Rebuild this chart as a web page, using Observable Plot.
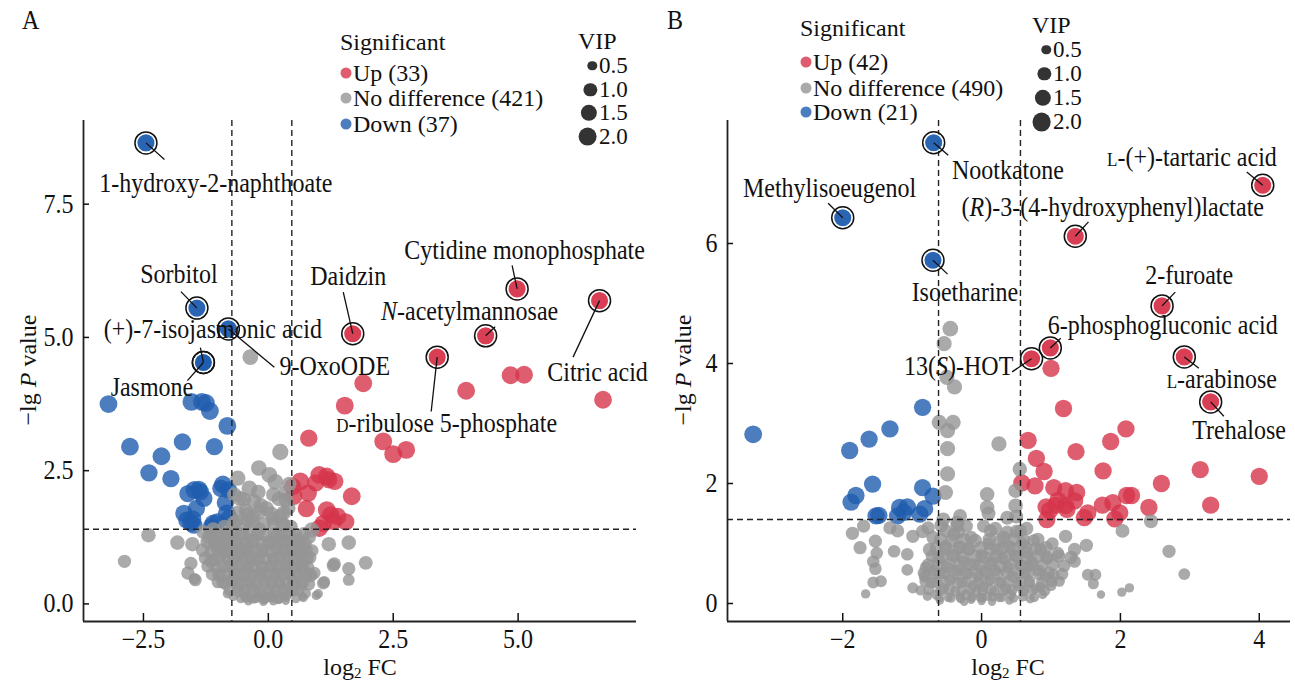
<!DOCTYPE html>
<html><head><meta charset="utf-8">
<script src="https://cdn.jsdelivr.net/npm/d3@7"></script>
<script src="https://cdn.jsdelivr.net/npm/@observablehq/plot@0.6"></script>
<style>
body{margin:0;background:#fff;}
#wrap{position:relative;width:1295px;height:682px;overflow:hidden;font-family:"Liberation Serif","Times New Roman",serif;font-size:24px;color:#111;background:#fff;}
.abs{position:absolute;white-space:nowrap;line-height:20px;}
.dot{display:inline-block;border-radius:50%;position:absolute;transform:translate(-50%,-50%);}
svg{position:absolute;top:0;}
</style></head><body><div id="wrap"></div>
<script>
// ---------- DATA ----------
// [log2FC, -lgP, VIP]
const A_ns = [[-2.40,1.29,1.2],[-2.88,0.80,1.0],[-1.82,1.15,1.2],[-1.52,1.12,1.2],[-1.61,0.58,1.0],[-1.46,0.45,0.9],[-1.55,0.76,1.0],[-1.48,0.47,0.8],
[0.24,2.85,1.5],[-0.19,2.55,1.4],[0.02,2.42,1.4],[0.14,2.29,1.4],[0.34,2.08,1.3],[-0.61,2.36,1.3],[-0.38,2.17,1.4],[-0.57,1.98,1.3],[-0.04,1.79,1.3],[0.23,1.64,1.3],
[0.87,1.39,1.3],[1.21,1.12,1.2],[1.61,1.15,1.2],[1.30,0.72,1.0],[1.61,0.66,1.0],[1.95,0.77,1.1],[1.61,0.45,0.8],[1.10,0.39,0.9],[0.96,0.16,0.5],[-0.36,4.63,1.4],
[1.32,0.75,1.0],[1.12,0.41,0.8],[0.92,0.58,0.9],[-0.82,0.19,0.5],[-0.48,0.14,0.4],[0.38,0.16,0.4],[0.68,0.14,0.4],[1.00,0.19,0.5],
[-1.30,1.35,1.1],[-1.20,1.25,1.0],[-1.10,1.40,1.1],[-1.05,1.10,1.0],[-0.95,1.30,1.1],[-0.90,0.95,0.9],[-0.85,1.20,1.0],[-0.80,0.70,0.9],[-0.78,1.00,1.0],[-0.75,0.45,0.8],
[-0.72,1.38,1.1],[-0.70,0.85,0.9],[-0.68,0.60,0.9],[-0.65,1.15,1.0],[-0.62,0.30,0.7],[-0.60,0.95,0.9],[-0.58,0.50,0.8],[-0.55,1.30,1.0],[-0.52,0.75,0.9],[-0.50,0.20,0.6],
[-0.48,1.05,1.0],[-0.45,0.40,0.8],[-0.42,0.65,0.9],[-0.40,1.55,1.1],[-0.38,0.12,0.5],[-0.36,0.90,0.9],[-0.33,0.30,0.7],[-0.30,1.20,1.0],[-0.28,0.55,0.8],[-0.25,0.10,0.5],
[-0.22,0.80,0.9],[-0.20,0.35,0.7],[-0.18,1.40,1.1],[-0.15,0.18,0.6],[-0.12,0.60,0.8],[-0.10,1.00,0.9],[-0.08,0.08,0.5],[-0.05,0.45,0.7],[-0.02,0.25,0.6],[0.00,0.70,0.8],
[0.03,0.12,0.5],[0.05,1.15,1.0],[0.08,0.40,0.7],[0.10,0.85,0.9],[0.12,0.20,0.6],[0.15,0.55,0.8],[0.18,1.30,1.0],[0.20,0.08,0.5],[0.22,0.70,0.8],[0.25,0.35,0.7],
[0.28,1.00,0.9],[0.30,0.15,0.6],[0.32,0.55,0.8],[0.35,0.85,0.9],[0.38,1.20,1.0],[0.40,0.30,0.7],[0.42,0.65,0.8],[0.45,1.45,1.1],[0.48,0.45,0.8],[0.50,0.95,0.9],
[0.53,0.25,0.7],[0.55,0.70,0.8],[0.58,1.20,1.0],[0.60,0.50,0.8],[0.63,0.90,0.9],[0.66,0.35,0.7],[0.70,1.05,1.0],[0.72,0.65,0.8],[0.75,0.20,0.6],[0.78,0.85,0.9],
[0.82,1.25,1.0],[0.85,0.55,0.8],[0.88,1.00,0.9],[-1.00,0.55,0.9],[-0.92,0.40,0.8],[-1.15,0.80,1.0],[-0.88,1.45,1.1],[-0.65,1.55,1.1],[-0.45,1.75,1.2],[-0.30,1.65,1.1],
[-0.15,1.85,1.2],[0.10,1.60,1.1],[0.30,1.50,1.1],[0.40,1.80,1.2],[-0.55,0.10,0.5],[-0.40,0.05,0.4],[-0.10,0.04,0.4],[0.10,0.05,0.4],[0.35,0.06,0.4],[0.55,0.10,0.5],
[-0.70,0.15,0.6],[0.70,0.12,0.5],[-0.68,2.05,1.2],[0.42,2.25,1.2],[0.35,1.95,1.2],[-0.20,2.10,1.2],[0.10,2.05,1.2],
[-0.45,0.12,0.6],[-0.31,0.10,0.6],[-0.19,0.13,0.6],[-0.06,0.11,0.6],[0.09,0.12,0.6],[0.21,0.10,0.6],[0.35,0.13,0.6],
[-0.78,0.26,0.8],[-0.61,0.24,0.8],[-0.46,0.27,0.8],[-0.29,0.25,0.8],[-0.17,0.23,0.8],[0.01,0.26,0.8],[0.16,0.24,0.8],[0.29,0.27,0.8],[0.46,0.24,0.8],[0.61,0.26,0.8],
[-1.01,0.41,0.9],[-0.86,0.38,0.9],[-0.69,0.42,0.9],[-0.56,0.39,0.9],[-0.37,0.41,0.9],[-0.23,0.38,0.9],[-0.07,0.42,0.9],[0.06,0.39,0.9],[0.21,0.41,0.9],[0.37,0.38,0.9],[0.51,0.42,0.9],[0.69,0.40,0.9],[0.81,0.37,0.9],
[-1.12,0.56,1.0],[-0.96,0.53,1.0],[-0.81,0.57,1.0],[-0.67,0.54,1.0],[-0.49,0.56,1.0],[-0.35,0.53,1.0],[-0.17,0.57,1.0],[-0.04,0.54,1.0],[0.13,0.56,1.0],[0.26,0.53,1.0],[0.43,0.57,1.0],[0.57,0.54,1.0],[0.73,0.56,1.0],[0.85,0.53,1.0],
[-1.21,0.71,1.0],[-1.04,0.68,1.0],[-0.91,0.72,1.0],[-0.73,0.69,1.0],[-0.59,0.71,1.0],[-0.42,0.68,1.0],[-0.28,0.72,1.0],[-0.11,0.69,1.0],[0.06,0.71,1.0],[0.19,0.68,1.0],[0.36,0.72,1.0],[0.49,0.69,1.0],[0.66,0.71,1.0],[0.79,0.68,1.0],
[-1.26,0.86,1.0],[-1.09,0.83,1.0],[-0.98,0.87,1.0],[-0.81,0.84,1.0],[-0.67,0.86,1.0],[-0.49,0.83,1.0],[-0.36,0.87,1.0],[-0.19,0.84,1.0],[-0.06,0.86,1.0],[0.11,0.83,1.0],[0.24,0.87,1.0],[0.41,0.84,1.0],[0.55,0.86,1.0],[0.71,0.83,1.0],[0.83,0.87,1.0],
[-1.31,1.01,1.1],[-1.14,0.98,1.1],[-1.01,1.02,1.1],[-0.85,0.99,1.1],[-0.73,1.01,1.1],[-0.55,0.98,1.1],[-0.41,1.02,1.1],[-0.24,0.99,1.1],[-0.13,1.01,1.1],[0.03,0.98,1.1],[0.17,1.02,1.1],[0.33,0.99,1.1],[0.47,1.01,1.1],[0.63,0.98,1.1],[0.75,1.02,1.1],
[-1.22,1.16,1.1],[-1.07,1.13,1.1],[-0.93,1.17,1.1],[-0.77,1.14,1.1],[-0.63,1.16,1.1],[-0.45,1.13,1.1],[-0.32,1.17,1.1],[-0.14,1.14,1.1],[0.01,1.16,1.1],[0.14,1.13,1.1],[0.31,1.17,1.1],[0.43,1.14,1.1],[0.61,1.16,1.1],[0.73,1.13,1.1],
[-1.14,1.31,1.1],[-1.01,1.28,1.1],[-0.83,1.32,1.1],[-0.69,1.29,1.1],[-0.51,1.31,1.1],[-0.37,1.28,1.1],[-0.21,1.32,1.1],[-0.06,1.29,1.1],[0.13,1.31,1.1],[0.26,1.28,1.1],[0.43,1.32,1.1],[0.55,1.29,1.1],[0.71,1.31,1.1],
[-0.69,1.51,1.2],[-0.49,1.48,1.2],[-0.31,1.52,1.2],[-0.09,1.49,1.2],[0.11,1.51,1.2],[0.29,1.48,1.2],
[-0.61,1.71,1.2],[-0.41,1.68,1.2],[-0.19,1.72,1.2],[0.06,1.69,1.2],[0.31,1.71,1.2],
[-0.49,1.96,1.2],[-0.29,1.93,1.2],[0.21,1.97,1.2]];
const A_down = [[-3.20,3.75,1.8],[-2.77,2.95,1.8],[-2.39,2.46,1.7],[-2.14,2.77,1.8],[-1.95,2.35,1.7],[-1.72,3.04,1.7],[-1.54,3.79,1.8],[-1.33,3.79,1.8],[-1.25,3.77,1.8],[-1.17,3.62,1.8],
[-0.82,3.34,1.8],[-1.08,2.95,1.7],[-1.61,2.07,1.7],[-1.48,2.14,1.8],[-1.39,2.15,1.7],[-1.29,1.98,1.7],[-1.44,1.79,1.7],[-1.69,1.70,1.7],[-1.52,1.59,1.8],[-1.49,1.48,1.7],
[-1.10,1.51,1.8],[-1.02,1.54,1.7],[-0.91,2.24,1.8],[-0.95,2.17,1.7],[-0.80,2.14,1.7],[-0.83,1.70,1.8],[-0.78,1.61,1.7],[-1.14,1.45,1.7],[-1.63,1.57,1.7],[-1.36,2.10,1.7],
[-0.86,1.90,1.7],[-1.55,1.52,1.7]];
const A_up = [[1.90,4.14,1.8],[1.53,3.72,1.8],[0.81,3.11,1.7],[2.30,3.05,1.8],[2.50,2.81,1.8],[2.76,2.89,1.8],[3.96,4.00,1.8],[4.85,4.29,1.8],[5.12,4.30,1.8],[6.70,3.83,1.8],
[0.49,2.20,1.7],[0.64,2.30,1.8],[0.51,2.02,1.7],[0.80,2.08,1.7],[0.76,1.79,1.7],[1.02,2.42,1.8],[1.17,2.39,1.8],[1.21,2.33,1.7],[1.33,2.30,1.7],[0.95,2.27,1.7],
[1.67,2.02,1.8],[1.17,1.76,1.8],[1.25,1.67,1.7],[1.39,1.64,1.7],[1.55,1.54,1.7],[1.10,1.51,1.7],[1.02,1.42,1.7],[1.30,1.55,1.7]];
// labelled metabolites: [name, log2FC, -lgP, VIP, group]
const A_labeled = [["1-hydroxy-2-naphthoate",-2.45,8.65,1.9,"down"],["Sorbitol",-1.43,5.55,1.9,"down"],["(+)-7-isojasmonic acid",-1.30,4.53,1.9,"down"],
["9-OxoODE",-0.80,5.16,1.9,"down"],["Jasmone",-1.30,4.53,1.9,"down"],["Daidzin",1.69,5.07,1.9,"up"],["Cytidine monophosphate",4.98,5.91,1.9,"up"],
["*N*-acetylmannosae",4.35,5.03,1.9,"up"],["Citric acid",6.63,5.69,1.9,"up"],["^D^-ribulose 5-phosphate",3.38,4.63,1.9,"up"]];
// label anchor and leader end, in data units: [textX, textY, leaderX, leaderY]
const A_place = [[-1.05,7.88,-2.08,8.34],[-1.79,6.18,-1.75,5.86],[-1.11,5.15,-1.36,4.81],[1.33,4.45,0.12,4.44],[-2.33,4.06,-1.62,4.19],
[1.60,6.14,1.50,5.85],[5.13,6.63,4.88,6.35],[4.03,5.48,4.54,5.20],[6.59,4.35,6.10,4.63],[3.57,3.39,3.26,3.61]];

const B_ns = [[-0.45,4.58,1.4],[-0.54,4.33,1.3],[-0.50,3.77,1.3],[-0.39,3.61,1.3],[-0.61,3.02,1.3],[-0.41,3.02,1.3],[-0.49,2.88,1.3],[-0.49,2.58,1.3],[-0.49,2.16,1.3],[-0.52,1.85,1.3],
[0.25,2.66,1.3],[0.55,2.24,1.2],[0.49,1.88,1.2],[0.08,1.82,1.2],[0.08,1.60,1.2],[0.49,1.63,1.2],[0.37,1.43,1.1],[-0.31,1.46,1.1],[2.44,1.37,1.1],[2.03,1.21,1.1],
[2.70,0.87,1.0],[2.92,0.49,0.8],[1.51,0.97,1.0],[1.34,0.90,1.0],[2.13,0.26,0.5],[2.02,0.19,0.5],[1.72,0.15,0.4],[1.61,0.33,0.7],[1.53,0.48,0.8],[1.64,0.48,0.8],
[-1.67,0.16,0.5],[-1.56,0.35,0.8],[-1.45,0.37,0.8],[-1.53,0.58,0.9],[-1.56,0.70,0.9],[-1.75,0.93,1.0],[-1.86,1.17,1.0],[-1.70,1.29,1.0],[-1.53,1.04,1.0],[-1.51,0.84,0.9],
[-1.32,1.26,1.0],[-1.26,0.87,0.9],[-1.07,0.82,0.9],[-1.07,0.56,0.8],[-0.99,0.26,0.7],[-0.88,0.22,0.6],[-0.82,0.45,0.8],[1.21,1.12,1.0],[1.34,0.70,0.9],[1.10,0.84,0.9],
[1.04,0.48,0.8],[1.12,0.37,0.7],[0.85,0.28,0.6],[0.68,0.62,0.8],[-1.21,1.21,1.0],[-0.99,1.12,1.0],[-0.77,1.26,1.0],[-0.22,1.29,1.0],[0.03,1.29,1.0],
[-0.80,0.60,0.9],[-0.75,0.90,1.0],[-0.72,0.35,0.8],[-0.70,1.10,1.0],[-0.65,0.15,0.6],[-0.62,0.75,0.9],[-0.60,0.50,0.8],[-0.58,1.30,1.1],[-0.55,0.25,0.7],[-0.52,0.95,1.0],
[-0.50,0.60,0.9],[-0.48,0.10,0.5],[-0.45,0.40,0.8],[-0.42,0.80,0.9],[-0.40,1.15,1.0],[-0.38,0.20,0.6],[-0.35,0.55,0.8],[-0.32,0.95,0.9],[-0.30,0.08,0.5],[-0.28,0.35,0.7],
[-0.25,0.70,0.8],[-0.22,0.15,0.6],[-0.20,0.50,0.8],[-0.18,0.90,0.9],[-0.15,0.06,0.4],[-0.12,0.30,0.7],[-0.10,0.65,0.8],[-0.08,0.18,0.6],[-0.05,0.45,0.7],[-0.02,0.10,0.5],
[0.00,0.80,0.9],[0.02,0.28,0.7],[0.05,0.55,0.8],[0.08,0.12,0.5],[0.10,1.00,0.9],[0.12,0.40,0.7],[0.15,0.70,0.8],[0.18,0.20,0.6],[0.20,0.55,0.8],[0.22,0.90,0.9],
[0.25,0.10,0.5],[0.28,0.35,0.7],[0.30,0.75,0.8],[0.32,1.10,1.0],[0.35,0.25,0.7],[0.38,0.60,0.8],[0.40,0.95,0.9],[0.42,0.15,0.6],[0.45,0.45,0.8],[0.48,0.80,0.9],
[0.50,1.20,1.0],[0.52,0.30,0.7],[0.55,0.65,0.8],[0.58,1.00,0.9],[0.60,0.20,0.6],[0.62,0.50,0.8],[0.65,0.85,0.9],[0.68,0.35,0.7],[0.72,0.70,0.8],[0.75,1.05,0.9],
[0.78,0.25,0.6],[0.82,0.55,0.8],[0.85,0.90,0.9],[0.88,0.15,0.5],[0.92,0.45,0.7],[0.95,0.75,0.8],[1.00,0.30,0.7],[1.02,1.00,0.9],[-0.85,1.20,1.0],[-0.78,0.12,0.5],
[-0.68,0.55,0.8],[-0.35,1.30,1.0],[-0.15,1.10,1.0],[0.20,1.25,1.0],[0.65,1.25,1.0],[-0.60,0.05,0.4],[0.00,0.04,0.4],[0.40,0.05,0.4],[0.70,0.08,0.5],[-0.25,0.03,0.4],[0.15,0.03,0.4],
[-0.61,0.10,0.5],[-0.44,0.09,0.5],[-0.31,0.11,0.5],[-0.14,0.10,0.5],[0.01,0.09,0.5],[0.16,0.11,0.5],[0.29,0.10,0.5],[0.46,0.09,0.5],[0.59,0.11,0.5],[0.76,0.10,0.5],
[-0.76,0.23,0.7],[-0.59,0.21,0.7],[-0.46,0.23,0.7],[-0.29,0.21,0.7],[-0.16,0.23,0.7],[0.01,0.21,0.7],[0.14,0.23,0.7],[0.31,0.21,0.7],[0.44,0.23,0.7],[0.61,0.21,0.7],[0.74,0.23,0.7],[0.91,0.21,0.7],
[-0.81,0.37,0.8],[-0.65,0.35,0.8],[-0.51,0.37,0.8],[-0.35,0.35,0.8],[-0.21,0.37,0.8],[-0.05,0.35,0.8],[0.09,0.37,0.8],[0.25,0.35,0.8],[0.39,0.37,0.8],[0.56,0.35,0.8],[0.69,0.37,0.8],[0.87,0.35,0.8],[1.01,0.37,0.8],
[-0.83,0.51,0.9],[-0.67,0.49,0.9],[-0.53,0.51,0.9],[-0.37,0.49,0.9],[-0.23,0.51,0.9],[-0.07,0.49,0.9],[0.07,0.51,0.9],[0.23,0.49,0.9],[0.37,0.51,0.9],[0.53,0.49,0.9],[0.67,0.51,0.9],[0.83,0.49,0.9],[0.97,0.51,0.9],[1.16,0.49,0.9],
[-0.77,0.65,0.9],[-0.63,0.63,0.9],[-0.47,0.65,0.9],[-0.33,0.63,0.9],[-0.17,0.65,0.9],[-0.03,0.63,0.9],[0.13,0.65,0.9],[0.27,0.63,0.9],[0.43,0.65,0.9],[0.57,0.63,0.9],[0.73,0.65,0.9],[0.87,0.63,0.9],[1.03,0.65,0.9],[1.19,0.63,0.9],
[-0.71,0.79,1.0],[-0.57,0.77,1.0],[-0.39,0.79,1.0],[-0.27,0.77,1.0],[-0.09,0.79,1.0],[0.04,0.77,1.0],[0.21,0.79,1.0],[0.34,0.77,1.0],[0.51,0.79,1.0],[0.65,0.77,1.0],[0.81,0.79,1.0],[0.94,0.77,1.0],[1.11,0.79,1.0],[1.29,0.77,1.0],
[-0.65,0.93,1.0],[-0.51,0.91,1.0],[-0.33,0.93,1.0],[-0.19,0.91,1.0],[-0.01,0.93,1.0],[0.13,0.91,1.0],[0.31,0.93,1.0],[0.45,0.91,1.0],[0.63,0.93,1.0],[0.77,0.91,1.0],[0.93,0.93,1.0],
[-0.59,1.07,1.0],[-0.43,1.05,1.0],[-0.25,1.07,1.0],[-0.09,1.05,1.0],[0.11,1.07,1.0],[0.27,1.05,1.0],[0.46,1.07,1.0],[0.61,1.05,1.0],[0.81,1.07,1.0],
[-0.51,1.21,1.0],[-0.33,1.19,1.0],[0.13,1.21,1.0],[0.37,1.19,1.0],[0.56,1.21,1.0],
[-0.55,1.40,1.1],[0.50,1.45,1.1],[0.10,1.50,1.1],[-0.35,1.35,1.1]];
const B_down = [[-3.29,2.82,1.8],[-0.85,3.27,1.7],[-1.32,2.91,1.7],[-1.62,2.74,1.7],[-1.90,2.55,1.7],[-1.57,1.99,1.7],[-1.81,1.80,1.7],[-1.88,1.69,1.7],[-0.85,1.93,1.7],
[-0.70,1.79,1.7],[-1.18,1.60,1.7],[-1.07,1.61,1.7],[-0.82,1.58,1.7],[-1.48,1.47,1.7],[-1.52,1.46,1.7],[-1.21,1.46,1.7],[-0.89,1.49,1.7],[-1.12,1.52,1.7]];
const B_up = [[1.18,3.25,1.7],[0.67,2.72,1.7],[0.79,2.42,1.7],[0.90,2.20,1.7],[0.58,2.01,1.7],[0.77,1.96,1.7],[1.04,1.93,1.7],[1.21,1.88,1.7],[1.37,1.85,1.7],[1.34,1.71,1.7],
[1.21,1.63,1.7],[1.07,1.64,1.7],[0.93,1.61,1.7],[1.23,1.57,1.7],[0.94,1.40,1.7],[1.48,1.43,1.7],[1.53,1.51,1.7],[1.36,2.53,1.7],[1.75,2.21,1.7],[1.86,2.70,1.7],
[2.08,2.91,1.7],[1.74,1.64,1.7],[1.89,1.68,1.7],[1.99,1.51,1.7],[1.92,1.41,1.7],[2.09,1.80,1.7],[2.16,1.80,1.7],[2.41,1.60,1.7],[2.59,2.00,1.7],[3.15,2.23,1.7],
[4.00,2.12,1.7],[3.30,1.64,1.7],[1.00,3.92,1.7],[1.10,1.72,1.7],[0.98,1.55,1.7]];
const B_labeled = [["Nootkatone",-0.69,7.68,1.9,"down"],["Methylisoeugenol",-2.00,6.43,1.9,"down"],["Isoetharine",-0.70,5.72,1.9,"down"],
["^L^-(+)-tartaric acid",4.05,6.97,1.9,"up"],["(*R*)-3-(4-hydroxyphenyl)lactate",1.35,6.12,1.9,"up"],["2-furoate",2.60,4.96,1.9,"up"],
["6-phosphogluconic acid",0.99,4.26,1.9,"up"],["13(*S*)-HOT",0.72,4.08,1.9,"up"],["^L^-arabinose",2.92,4.11,1.9,"up"],["Trehalose",3.30,3.36,1.9,"up"]];
const B_place = [[0.38,7.21,-0.48,7.47],[-2.19,6.92,-2.21,6.67],[-0.24,5.19,-0.49,5.49],[3.03,7.44,3.82,7.19],[1.89,6.60,1.54,6.36],
[2.99,5.46,2.79,5.19],[2.61,4.64,1.14,4.42],[-0.33,3.95,0.44,3.86],[3.46,3.73,3.13,3.92],[3.71,2.89,3.49,3.12]];

const A_sig = ["Up (33)","No difference (421)","Down (37)"];
const B_sig = ["Up (42)","No difference (490)","Down (21)"];
const sigGroups = ["up","ns","down"];
const vipLevels = [0.5,1.0,1.5,2.0];
const A_xTicks = [-2.5,0,2.5,5], A_yTicks = [0,2.5,5,7.5];
const B_xTicks = [-2,0,2,4], B_yTicks = [0,2,4,6];
const A_thresh = {fc:[-0.73,0.47], p:1.40};
const B_thresh = {fc:[-0.62,0.56], p:1.40};

// ---------- STYLE ----------
const RED="#d6354b", BLUE="#1f5daf", GREY="#959595";
const colorOf = {up:RED, ns:GREY, down:BLUE};
const RMAX = 9.4;
const SY = 1.1; // vertical glyph stretch seen in the reference

function rows(arr,g){return arr.map(d=>({x:d[0],y:d[1],vip:d[2],g}));}

function richText(svg){
  svg.querySelectorAll('g[aria-label="text"] text').forEach(t=>{
    const s=t.textContent;
    if(!/[*^]/.test(s)) return;
    t.textContent="";
    s.split(/(\*[^*]+\*|\^[^^]+\^)/).forEach(part=>{
      if(!part) return;
      const ts=document.createElementNS("http://www.w3.org/2000/svg","tspan");
      if(part[0]==="*"){ts.setAttribute("font-style","italic");ts.textContent=part.slice(1,-1);}
      else if(part[0]==="^"){ts.setAttribute("font-size","17");ts.textContent=part.slice(1,-1);}
      else ts.textContent=part;
      t.appendChild(ts);
    });
  });
  svg.querySelectorAll("text").forEach(t=>{
    const tr=t.getAttribute("transform");
    if(tr) t.setAttribute("transform",tr+` scale(1,${SY})`);
    else {const x=+t.getAttribute("x")||0,y=+t.getAttribute("y")||0;
      t.setAttribute("transform",`translate(${x},${y}) scale(1,${SY}) translate(${-x},${-y})`);}
  });
}

function panel(c){
  const dots=[...rows(c.ns,"ns"),...rows(c.down,"down"),...rows(c.up,"up")];
  const lab=c.labeled.map((d,i)=>({name:d[0],x:d[1],y:d[2],vip:d[3],g:d[4],tx:c.place[i][0],ty:c.place[i][1],lx:c.place[i][2],ly:c.place[i][3]}));
  const svg=Plot.plot({
    width:c.width,height:682,marginLeft:c.ml,marginRight:c.mr,marginTop:120,marginBottom:61,
    x:{domain:c.xd},y:{domain:c.yd},
    r:{type:"sqrt",domain:[0,2],range:[0,RMAX]},
    color:{domain:sigGroups,range:[RED,GREY,BLUE]},
    style:{fontFamily:'"Liberation Serif","Times New Roman",serif',fontSize:"24px",color:"#111",background:"transparent",overflow:"visible"},
    marks:[
      Plot.dot(dots,{x:"x",y:"y",r:"vip",fill:"g",fillOpacity:0.8}),
      Plot.ruleX(c.th.fc,{stroke:"#222",strokeWidth:1.4,strokeDasharray:"6,4"}),
      Plot.ruleY([c.th.p],{stroke:"#222",strokeWidth:1.4,strokeDasharray:"6,4"}),
      Plot.dot(lab,{x:"x",y:"y",r:"vip",fill:"g",fillOpacity:0.95,stroke:"white",strokeWidth:1.2}),
      Plot.dot(lab,{x:"x",y:"y",r:11,stroke:"#111",strokeWidth:1.5}),
      Plot.link(lab,{x1:"x",y1:"y",x2:"lx",y2:"ly",stroke:"#111",strokeWidth:1.3}),
      Plot.text(lab,{x:"tx",y:"ty",text:"name",fill:"#111"}),
      Plot.ruleX([c.xd[0]],{stroke:"#222",strokeWidth:1.8}),
      Plot.ruleY([c.yd[0]],{stroke:"#222",strokeWidth:1.8}),
      Plot.axisX({ticks:c.xt,tickSize:-8,tickFormat:()=>"",label:null,strokeWidth:1.5}),
      Plot.axisX({ticks:c.xt,tickSize:0,tickPadding:8,tickFormat:c.xf,label:null,fill:"#111"}),
      Plot.axisY({ticks:c.yt,tickSize:-6,tickFormat:()=>"",label:null,strokeWidth:1.5}),
      Plot.axisY({ticks:c.yt,tickSize:0,tickPadding:10,tickFormat:c.yf,label:null,fill:"#111"})
    ]
  });
  svg.style.left=c.left+"px";
  richText(svg);
  return svg;
}

const wrap=document.getElementById("wrap");
const fmtMinus=f=>(v=>f(v).replace("-","−"));
wrap.appendChild(panel({width:650,left:0,ml:83,mr:14,xd:[-3.70,7.37],yd:[-0.33,9.07],xt:A_xTicks,yt:A_yTicks,
  xf:fmtMinus(d3.format(".1f")),yf:d3.format(".1f"),ns:A_ns,down:A_down,up:A_up,labeled:A_labeled,place:A_place,th:A_thresh}));
wrap.appendChild(panel({width:645,left:650,ml:77,mr:5,xd:[-3.66,4.45],yd:[-0.30,8.05],xt:B_xTicks,yt:B_yTicks,
  xf:fmtMinus(d3.format("d")),yf:d3.format("d"),ns:B_ns,down:B_down,up:B_up,labeled:B_labeled,place:B_place,th:B_thresh}));

// ---------- TEXT / LEGENDS ----------
function addText(html,left,cy,tf,sy,fs){
  const d=document.createElement("div");d.className="abs";d.style.left=left+"px";d.style.top=cy+"px";
  d.style.transform=(tf||"translateY(-50%)")+(sy?` scaleY(${sy})`:"");
  if(fs)d.style.fontSize=fs+"px";
  d.innerHTML=html;wrap.appendChild(d);return d;
}
function addDot(cx,cy,r,color,op){
  const s=document.createElement("span");s.className="dot";
  Object.assign(s.style,{left:cx+"px",top:cy+"px",width:2*r+"px",height:2*r+"px",background:color,opacity:op});
  wrap.appendChild(s);
}
function legend(L){
  addText("Significant",L.sx,L.sy);
  L.sig.forEach((t,i)=>{addDot(L.sdx,L.srow[i],5.5,colorOf[sigGroups[i]],0.8);addText(t,L.stx,L.srow[i]);});
  addText("VIP",L.vx,L.vy);
  vipLevels.forEach((v,i)=>{const r=RMAX*Math.sqrt(v/2);addDot(L.vdr-r,L.vrow[i],r,"#333",1);addText(v.toFixed(1),L.vtx,L.vrow[i],null,null,23);});
}
legend({sig:A_sig,sx:340,sy:42,sdx:346,stx:353,srow:[73,98,124],vx:578,vy:41,vdr:597,vtx:599,vrow:[66,89.5,113,136.5]});
legend({sig:B_sig,sx:800,sy:28,sdx:806,stx:813,srow:[62,88,112],vx:1032,vy:25,vdr:1051,vtx:1053,vrow:[50,74,98,122]});

addText("A",22,20,null,SY);
addText("B",667,20,null,SY);
const ylab='−lg <i>P</i> value', xlab='log<sub style="font-size:15px;vertical-align:-3px;line-height:0">2</sub> FC';
addText(ylab,28,370,"translate(-50%,-50%) rotate(-90deg)",null);
addText(ylab,683,370,"translate(-50%,-50%) rotate(-90deg)",null);
addText(xlab,360,667,"translate(-50%,-50%)",null);
addText(xlab,1008,667,"translate(-50%,-50%)",null);
</script></body></html>
